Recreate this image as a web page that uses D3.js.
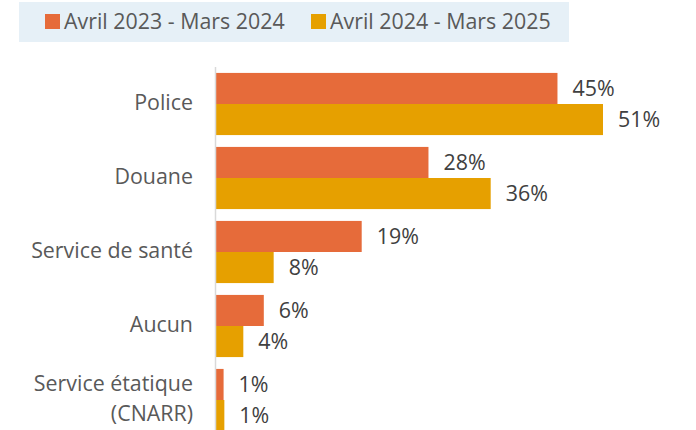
<!DOCTYPE html>
<html>
<head>
  <meta charset="utf-8">
  <script src="https://d3js.org/d3.v7.min.js"></script>
  <style>
    body { margin: 0; background: #fff; }
    text { font-family: "Open Sans", sans-serif; }
  </style>
</head>
<body>
<script>
  // data (labels are rounded)
  var categories = ["Police", "Douane", "Service de santé", "Aucun", "Service étatique\n(CNARR)"];
  var series = ["Avril 2023 - Mars 2024", "Avril 2024 - Mars 2025"];
  var values2023 = [45, 28, 19.2, 6.3, 1.0];
  var values2024 = [51, 36.2, 7.6, 3.6, 1.1];
  var colors = ["#e66b3a", "#e6a000"];

  var W = 696, H = 430;
  var svg = d3.select("body").append("svg").attr("width", W).attr("height", H);

  var rows = categories.map(function (c, i) {
    return { cat: c, vals: [values2023[i], values2024[i]] };
  });

  var x = d3.scaleLinear().domain([0, 51]).range([216, 603]);
  var y = d3.scaleBand().domain(categories).range([67, 437])
      .paddingInner(0.16).paddingOuter(0.08);
  var ys = d3.scaleBand().domain(series).range([0, y.bandwidth()]);

  // legend box
  svg.append("rect").attr("x", 19).attr("y", 2).attr("width", 550).attr("height", 40)
    .attr("fill", "#e6f0f7");
  var leg = svg.selectAll("g.leg").data(series).enter().append("g")
    .attr("transform", function (d, i) { return "translate(" + (45 + i * 266) + ",0)"; });
  leg.append("rect").attr("x", 0).attr("y", 14).attr("width", 15).attr("height", 15)
    .attr("fill", function (d, i) { return colors[i]; });
  leg.append("text").attr("x", 19).attr("y", 28.5)
    .style("font-size", "21.4px").attr("fill", "#595959")
    .text(function (d) { return d; });

  // bars
  var g = svg.selectAll("g.cat").data(rows).enter().append("g")
    .attr("transform", function (d) { return "translate(0," + y(d.cat) + ")"; });

  g.selectAll("rect").data(function (d) { return d.vals; }).enter().append("rect")
    .attr("x", x(0))
    .attr("y", function (d, i) { return ys(series[i]); })
    .attr("width", function (d) { return x(d) - x(0); })
    .attr("height", ys.bandwidth())
    .attr("fill", function (d, i) { return colors[i]; });

  g.selectAll("text.val").data(function (d) { return d.vals; }).enter().append("text")
    .attr("class", "val")
    .attr("x", function (d) { return x(d) + 15; })
    .attr("y", function (d, i) { return ys(series[i]) + ys.bandwidth() / 2; })
    .attr("dy", "0.36em")
    .style("font-size", "21.4px").attr("fill", "#404040")
    .text(function (d) { return Math.round(d) + "%"; });

  // category labels
  g.each(function (d) {
    var lines = d.cat.split("\n");
    var t = d3.select(this).append("text")
      .attr("text-anchor", "end")
      .style("font-size", "21.4px").attr("fill", "#595959");
    lines.forEach(function (l, k) {
      t.append("tspan").attr("x", 193)
        .attr("y", y.bandwidth() / 2 + (k - (lines.length - 1) / 2) * 30)
        .attr("dy", "0.3em").text(l);
    });
  });

  // axis line
  svg.append("line").attr("x1", x(0) - 0.5).attr("x2", x(0) - 0.5)
    .attr("y1", 67).attr("y2", H)
    .attr("stroke", "#d9d9d9").attr("stroke-width", 1.5);
</script>
</body>
</html>
